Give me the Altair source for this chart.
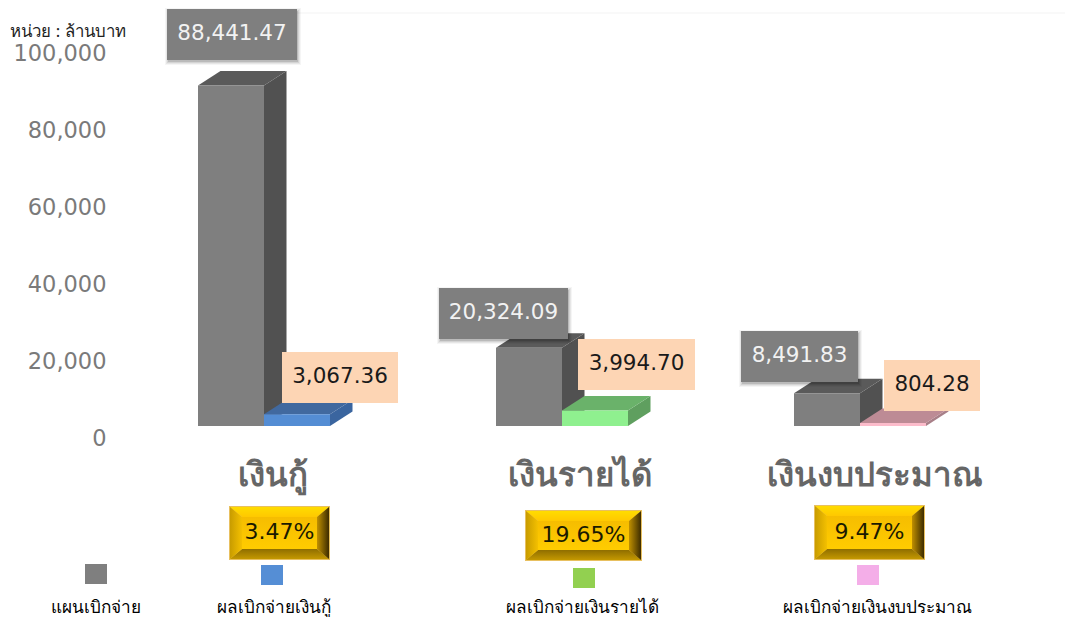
import altair as alt
import pandas as pd

# ---- values ----
categories = ["เงินกู้", "เงินรายได้", "เงินงบประมาณ"]
plan_values = [88441.47, 20324.09, 8491.83]
actual_values = [3067.36, 3994.70, 804.28]
percents = ["3.47%", "19.65%", "9.47%"]
legend_labels = ["แผนเบิกจ่าย", "ผลเบิกจ่ายเงินกู้", "ผลเบิกจ่ายเงินรายได้", "ผลเบิกจ่ายเงินงบประมาณ"]
y_ticks = [0, 20000, 40000, 60000, 80000, 100000]
unit_label = "หน่วย : ล้านบาท"

# ---- layout and style (page pixels) ----
W, H = 1057, 609
PX = 3.85 / 1000            # pixels per unit of value
ZERO = 426                  # page y of value 0
BAR_LEFT = [198, 496, 794]
BAR_W = 66
DX, DY = 22.5, 14.5
GRAY = ("#7f7f7f", "#515151", "#5a5a5a")
SERIES = [("#548dd4", "#3a659f", "#41699f"),
          ("#8ff08f", "#5f9f5f", "#6ab26a"),
          ("#fcbccb", "#a87f88", "#bd8b95")]
PLAN_BOX = [(167, 297, 9, 60), (439, 568, 288, 339), (741, 858, 331, 382)]
ACT_BOX = [(282, 398, 352, 403), (578, 695, 339, 390), (884, 980, 360, 411)]
GOLD_BOX = [(230, 329, 507, 559), (526, 641, 511, 560), (815, 924, 506, 559)]
CAT_X = [273, 580, 875]
LEG_SQ = [(85, 107, 564, 584), (261, 283, 565, 585), (573, 595, 568, 588), (857, 879, 565, 585)]
LEG_COL = ["#7f7f7f", "#558ed5", "#92d050", "#f4aee8"]
LEG_X = [96, 274, 582, 877]
BEVEL_X, BEVEL_Y = 12, 10
FONT = "DejaVu Sans"
THAI = "Noto Sans"

x_enc = alt.Scale(domain=[8, 8 + W], range=[0, W])
val_scale = alt.Scale(domain=[(ZERO - (8 + H)) / PX, (ZERO - 8) / PX], range=[H, 0], nice=False, zero=False)
px_scale = alt.Scale(domain=[8, 8 + H], range=[0, H])


def X(f="x"):
    return alt.X(f"{f}:Q", scale=x_enc, axis=None)


def YV(f="y"):
    return alt.Y(f"{f}:Q", scale=val_scale, axis=None)


def YP(f="y"):
    return alt.Y(f"{f}:Q", scale=px_scale, axis=None)


rows = [(BAR_LEFT[i], plan_values[i], GRAY, f"p{i}") for i in range(3)]
rows2 = [(BAR_LEFT[i] + BAR_W, actual_values[i], SERIES[i], f"a{i}") for i in range(3)]
d = DY / PX


def bars(items):
    fr, si, to = [], [], []
    for left, v, cols, key in items:
        right = left + BAR_W
        fr.append(dict(x=left, x2=right, y=v, y2=0, fill=cols[0]))
        si += [dict(x=right, y=0, y2=v, id=key, fill=cols[1]),
               dict(x=right + DX, y=d, y2=v + d, id=key, fill=cols[1])]
        to += [dict(x=left, y=v, y2=v, id=key, fill=cols[2]),
               dict(x=left + DX, y=v, y2=v + d, id=key, fill=cols[2]),
               dict(x=right, y=v, y2=v + d, id=key, fill=cols[2]),
               dict(x=right + DX, y=v + d, y2=v + d, id=key, fill=cols[2])]
    nofill = alt.Color("fill:N", scale=None)
    return [
        alt.Chart(pd.DataFrame(si)).mark_area().encode(x=X(), y=YV(), y2="y2:Q", detail="id:N", color=nofill),
        alt.Chart(pd.DataFrame(to)).mark_area().encode(x=X(), y=YV(), y2="y2:Q", detail="id:N", color=nofill),
        alt.Chart(pd.DataFrame(fr)).mark_rect().encode(x=X(), x2="x2:Q", y=YV(), y2="y2:Q", color=nofill),
    ]


def rects(boxes, color=None, grow=0, shift=(0, 0), opacity=1):
    df = pd.DataFrame([dict(x=b[0] - grow + shift[0], x2=b[1] + grow + shift[0],
                            y=b[2] - grow + shift[1], y2=b[3] + grow + shift[1]) for b in boxes])
    return alt.Chart(df).mark_rect(color=color, opacity=opacity).encode(x=X(), x2="x2:Q", y=YP(), y2="y2:Q")


def texts(xs, ys, labels, **kw):
    df = pd.DataFrame(dict(x=xs, y=ys, t=labels))
    return alt.Chart(df).mark_text(baseline="middle", **kw).encode(x=X(), y=YP(), text="t:N")


def centre(b):
    return (b[0] + b[1]) / 2, (b[2] + b[3]) / 2 - 2


def grad(c0, c1, vertical=True):
    stops = [alt.GradientStop(color=c0, offset=0), alt.GradientStop(color=c1, offset=1)]
    if vertical:
        return alt.LinearGradient(gradient="linear", stops=stops, x1=0, x2=0, y1=0, y2=1)
    return alt.LinearGradient(gradient="linear", stops=stops, x1=0, x2=1, y1=0, y2=0)


def gold_layers():
    t, bm, l, r = [], [], [], []
    bx, by = BEVEL_X, BEVEL_Y
    for i, (x0, x1, y0, y1) in enumerate(GOLD_BOX):
        t += [dict(x=x0, y=y0, y2=y0, id=i), dict(x=x0 + bx, y=y0, y2=y0 + by, id=i),
              dict(x=x1 - bx, y=y0, y2=y0 + by, id=i), dict(x=x1, y=y0, y2=y0, id=i)]
        bm += [dict(x=x0, y=y1, y2=y1, id=i), dict(x=x0 + bx, y=y1 - by, y2=y1, id=i),
               dict(x=x1 - bx, y=y1 - by, y2=y1, id=i), dict(x=x1, y=y1, y2=y1, id=i)]
        l += [dict(x=x0, y=y0, y2=y1, id=i), dict(x=x0 + bx, y=y0 + by, y2=y1 - by, id=i)]
        r += [dict(x=x1 - bx, y=y0 + by, y2=y1 - by, id=i), dict(x=x1, y=y0, y2=y1, id=i)]
    out = [rects(GOLD_BOX, color="#e8c060", grow=1)]
    inner = pd.DataFrame([dict(x=x0 + bx, x2=x1 - bx, y=y0 + by, y2=y1 - by) for x0, x1, y0, y1 in GOLD_BOX])
    out.append(alt.Chart(inner).mark_rect(color=grad("#f6bd00", "#ffcc00")).encode(x=X(), x2="x2:Q", y=YP(), y2="y2:Q"))
    for data, fill in [(t, grad("#ffdc00", "#ffc800")),
                       (bm, grad("#8f6e00", "#c49800")),
                       (l, grad("#c89c00", "#f4c000", False)),
                       (r, grad("#c09000", "#3d2c00", False))]:
        out.append(alt.Chart(pd.DataFrame(data)).mark_area(color=fill).encode(
            x=X(), y=YP(), y2="y2:Q", detail="id:N"))
    return out


axis_layer = alt.Chart(pd.DataFrame(dict(v=y_ticks))).mark_point(opacity=0).encode(
    y=alt.Y("v:Q", scale=val_scale, axis=alt.Axis(
        values=y_ticks, format=",d", domain=False, ticks=False, grid=False, title=None, orient="left",
        offset=-98, labelPadding=0, labelAlign="right", labelBaseline="middle", labelOffset=12,
        labelFont=FONT, labelFontSize=22.5, labelColor="#7a7a7a")))

top_rule = alt.Chart(pd.DataFrame(dict(x=[297], x2=[8 + W], y=[13]))).mark_rule(color="#f3f3f3").encode(
    x=X(), x2="x2:Q", y=YP())

cx_p = [centre(b)[0] for b in PLAN_BOX]
cy_p = [centre(b)[1] + 1 for b in PLAN_BOX]
cx_a = [centre(b)[0] for b in ACT_BOX]
cy_a = [centre(b)[1] + 1 for b in ACT_BOX]
cx_g = [centre(b)[0] for b in GOLD_BOX]
cy_g = [centre(b)[1] + 1 for b in GOLD_BOX]

layers = [top_rule, axis_layer]
layers += bars(rows)
layers += bars(rows2)
layers += [
    rects(PLAN_BOX, color="#000000", grow=3, shift=(1, 2), opacity=0.04),
    rects(PLAN_BOX, color="#000000", grow=2, shift=(1, 2), opacity=0.06),
    rects(PLAN_BOX, color="#000000", grow=1, shift=(1, 2), opacity=0.08),
    rects(PLAN_BOX, color="#000000", grow=0, shift=(1, 2), opacity=0.12),
    rects(PLAN_BOX, color="#7f7f7f"),
    rects(ACT_BOX, color="#fdd5b4"),
    texts(cx_p, cy_p, [f"{v:,.2f}" for v in plan_values], font=FONT, fontSize=21.5, color="#f2f2f2"),
    texts(cx_a, cy_a, [f"{v:,.2f}" for v in actual_values], font=FONT, fontSize=21.5, color="#1a1a1a"),
    texts(CAT_X, [476, 476, 476], categories, font=THAI, fontSize=33, fontWeight="bold", color="#666666"),
]
layers += gold_layers()
layers += [
    texts(cx_g, cy_g, percents, font=FONT, fontSize=22, color="#1a1a00"),
    *[rects([LEG_SQ[i]], color=LEG_COL[i]) for i in range(4)],
    texts(LEG_X, [608] * 4, legend_labels, font=THAI, fontSize=17.2, color="#000000"),
    texts([68], [32], [unit_label], font=THAI, fontSize=16.8, color="#222222"),
]

chart = alt.layer(*layers).resolve_scale(y="independent").properties(
    width=W, height=H, padding=0, autosize=alt.AutoSizeParams(type="none"), background="#ffffff"
).configure_view(stroke=None)

chart.save("out.html", embed_options={"renderer": "svg", "actions": False})
